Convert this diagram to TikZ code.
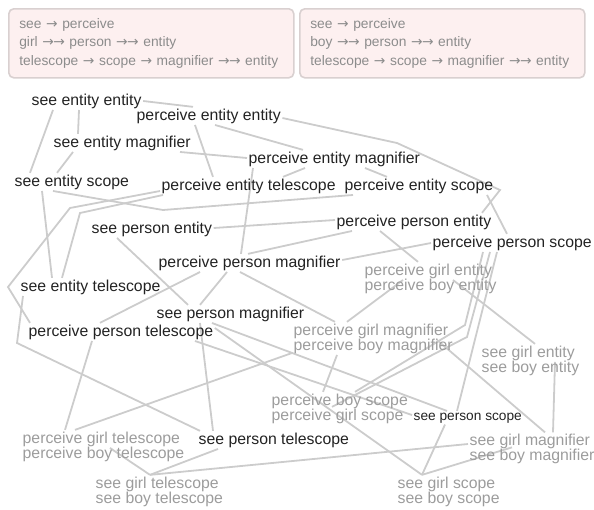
\documentclass[tikz,border=0pt]{standalone}
\usepackage{fontspec}
\setmainfont{Liberation Sans}
\newfontfamily\arrowfont{DejaVu Sans}
\usetikzlibrary{backgrounds}

\definecolor{boxfill}{HTML}{FDF0F0}
\definecolor{boxline}{HTML}{D9D0D0}
\definecolor{hintgray}{HTML}{8C8C8C}
\definecolor{wiregray}{HTML}{CCCCCC}
\definecolor{inkdark}{HTML}{222222}
\definecolor{inkpale}{HTML}{9C9C9C}

\newcommand{\ra}{{\arrowfont →}}
\newcommand{\rra}{{\arrowfont →\kern-0.6pt→}}

\tikzset{
  word/.style={anchor=base west, inner sep=1.5pt, text=inkdark,
    font=\fontsize{15.8}{15.8}\selectfont},
  pale/.style={word, text=inkpale},
  wire/.style={draw=wiregray, line width=1.8pt},
  hintbox/.style={draw=boxline, fill=boxfill, rounded corners=5pt, line width=1.6pt,
    text=hintgray, font=\fontsize{13.8}{18.6}\selectfont, align=left,
    text width=264pt, inner xsep=10.5pt, minimum height=69pt, anchor=north west}
}

\begin{document}
\begin{tikzpicture}[x=1pt,y=-1pt]
\useasboundingbox (0,0) rectangle (594,509);

\node[hintbox] (ruleGirl) at (8,8) {see \ra{} perceive\\girl \rra{} person \rra{} entity\\telescope \ra{} scope \ra{} magnifier \rra{} entity};
\node[hintbox] (ruleBoy) at (299,8) {see \ra{} perceive\\boy \rra{} person \rra{} entity\\telescope \ra{} scope \ra{} magnifier \rra{} entity};

\node[word] (seeEntEnt) at (30,105) {see entity entity};
\node[word] (perEntEnt) at (135,120) {perceive entity entity};
\node[word] (seeEntMag) at (52,147) {see entity magnifier};
\node[word] (perEntMag) at (247,163) {perceive entity magnifier};
\node[word] (seeEntSco) at (13,186) {see entity scope};
\node[word] (perEntTel) at (160,190) {perceive entity telescope};
\node[word] (perEntSco) at (343,190) {perceive entity scope};
\node[word] (seePerEnt) at (90,233) {see person entity};
\node[word] (perPerEnt) at (335,226) {perceive person entity};
\node[word] (perPerSco) at (431,247) {perceive person scope};
\node[word] (perPerMag) at (157,267) {perceive person magnifier};
\node[pale] (perGirEnt) at (363,275) {perceive girl entity};
\node[pale] (perBoyEnt) at (363,290) {perceive boy entity};
\node[word] (seeEntTel) at (19,291) {see entity telescope};
\node[word] (seePerMag) at (155,318) {see person magnifier};
\node[word] (perPerTel) at (27,336) {perceive person telescope};
\node[pale] (perGirMag) at (292,335) {perceive girl magnifier};
\node[pale] (perBoyMag) at (292,350) {perceive boy magnifier};
\node[pale] (seeGirEnt) at (480,357) {see girl entity};
\node[pale] (seeBoyEnt) at (480,372) {see boy entity};
\node[pale] (perBoySco) at (270,405) {perceive boy scope};
\node[pale] (perGirSco) at (270,420) {perceive girl scope};
\node[word, font=\fontsize{13.7}{13.7}\selectfont] (seePerSco) at (412,420) {see person scope};
\node[pale] (perGirTel) at (21,443) {perceive girl telescope};
\node[pale] (perBoyTel) at (21,458) {perceive boy telescope};
\node[word] (seePerTel) at (197,444) {see person telescope};
\node[pale] (seeGirMag) at (468,445.5) {see girl magnifier};
\node[pale] (seeBoyMag) at (468,460.5) {see boy magnifier};
\node[pale] (seeGirTel) at (94,488) {see girl telescope};
\node[pale] (seeBoyTel) at (94,503) {see boy telescope};
\node[pale] (seeGirSco) at (396,488) {see girl scope};
\node[pale] (seeBoySco) at (396,503) {see boy scope};

\begin{scope}[on background layer]
% top part
\draw[wire] (seeEntEnt.east |- 0,101) -- (perEntEnt.north -| 193,0);
\draw[wire] (seeEntEnt.south -| 79,0) -- (seeEntMag.north -| 78,0);
\draw[wire] (seeEntEnt.south -| 53,0) -- (seeEntSco.north -| 30,0);
\draw[wire] (seeEntMag.south -| 73,0) -- (seeEntSco.north -| 57,0);
\draw[wire] (seeEntMag.south -| 180,0) -- (perEntMag.west |- 0,158);
\draw[wire] (perEntEnt.south -| 195,0) -- (perEntTel.north -| 213,0);
\draw[wire] (perEntEnt.south -| 215,0) -- (perEntMag.north -| 303,0);
\draw[wire] (perEntEnt.east |- 0,118) -- (397,143) -- (500,190) -- (perPerEnt.north -| 482,0);
\draw[wire] (perEntMag.south -| 253,0) -- (perPerMag.north -| 241,0);
\draw[wire] (perEntTel.north -| 283,0) -- (perEntMag.south -| 305,0);
\draw[wire] (perEntMag.south -| 365,0) -- (perEntSco.north -| 387,0);
\draw[wire] (seeEntSco.south -| 53,0) -- (163,210) -- (perEntSco.south -| 353,0);
\draw[wire] (seeEntSco.south -| 42,0) -- (seeEntTel.north -| 52,0);
\draw[wire] (perEntTel.west |- 0,191) -- (70,208) -- (8,287) -- (perPerTel.north -| 30,0);
\draw[wire] (perEntTel.south -| 163,0) -- (80,213) -- (seeEntTel.north -| 62,0);
\draw[wire] (perEntSco.south -| 487,0) -- (perPerSco.north -| 507,0);
% middle
\draw[wire] (seePerEnt.east |- 0,228) -- (perPerEnt.west |- 0,220);
\draw[wire] (seePerEnt.south -| 117,0) -- (seePerMag.north -| 188,0);
\draw[wire] (perPerMag.north -| 248,0) -- (perPerEnt.south -| 352,0);
\draw[wire] (perPerMag.south -| 200,0) -- (perPerTel.north -| 100,0);
\draw[wire] (perPerMag.south -| 227,0) -- (seePerMag.north -| 200,0);
\draw[wire] (perPerMag.south -| 240,0) -- (perGirMag.north -| 335,0);
\draw[wire] (perPerMag.east |- 0,260) -- (perPerSco.west |- 0,243);
\draw[wire] (perPerEnt.south -| 380,0) -- (perGirEnt.north -| 418,0);
\draw[wire] (perGirMag.north -| 347,0) -- (perGirEnt.south -| 403,0);
\draw[wire] (perGirEnt.south -| 453,0) -- (seeGirEnt.north -| 535,0);
\draw[wire] (seeEntTel.south -| 23,0) -- (17,343) -- (seePerTel.north -| 200,0);
\draw[wire] (perPerTel.south -| 92,0) -- (perGirTel.north -| 65,0);
\draw[wire] (seePerMag.south -| 200,0) -- (seePerTel.north -| 213,0);
\draw[wire] (seePerMag.south -| 212,0) -- (seePerSco.north -| 447,0);
\draw[wire] (perPerTel.south -| 195,0) -- (seePerSco.west |- 0,415);
\draw[wire] (perPerTel.east |- 0,328) -- (seeGirSco.north -| 422,0);
\draw[wire] (perGirTel.north -| 75,0) -- (perBoyMag.west |- 0,353);
\draw[wire] (perPerSco.south -| 483,0) -- (465,325) -- (perBoySco.north -| 355,0);
\draw[wire] (perPerSco.south -| 490,0) -- (467,337) -- (perGirSco.north -| 332,0);
\draw[wire] (perPerSco.south -| 497,0) -- (seePerSco.north -| 457,0);
\draw[wire] (perBoyMag.south -| 337,0) -- (perBoySco.north -| 323,0);
\draw[wire] (perGirMag.south -| 437,0) -- (seeGirMag.north -| 545,0);
\draw[wire] (seeGirEnt.south -| 555,0) -- (seeGirMag.north -| 553,0);
% bottom
\draw[wire] (seePerTel.south -| 218,0) -- (seeGirTel.north -| 150,0);
\draw[wire] (perGirTel.south -| 110,0) -- (seeGirTel.north -| 150,0);
\draw[wire] (seeGirTel.north -| 150,0) -- (seeGirMag.west |- 0,444);
\draw[wire] (seePerSco.south -| 445,0) -- (seeGirSco.north -| 422,0);
\draw[wire] (seeGirSco.north -| 422,0) -- (seeBoyMag.north -| 512,0);
\end{scope}
\end{tikzpicture}
\end{document}
